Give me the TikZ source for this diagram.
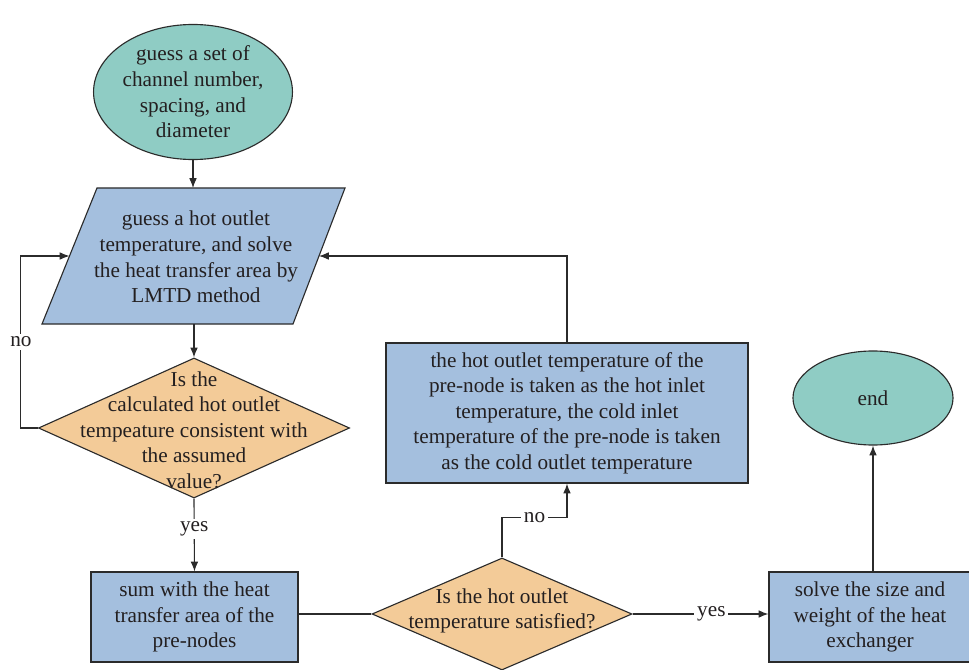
\documentclass[tikz,border=0pt]{standalone}
\usepackage{fontspec}
\setmainfont{Liberation Serif}
\usetikzlibrary{shapes.geometric,arrows.meta}
\definecolor{tealfill}{HTML}{8FCCC4}
\definecolor{bluefill}{HTML}{A4BFDE}
\definecolor{orangefill}{HTML}{F3CB98}
\definecolor{edgegray}{HTML}{2B2B2B}
\definecolor{inkgray}{HTML}{231F20}

\begin{document}
\begin{tikzpicture}[x=0.025cm,y=-0.025cm,line width=0.8pt,
  every node/.style={font=\rmfamily\fontsize{15.1}{18.2}\selectfont,text=inkgray},
  terminal/.style={ellipse,draw=edgegray,fill=tealfill,inner sep=0pt,align=center},
  proc/.style={rectangle,draw=edgegray,fill=bluefill,inner sep=2pt,align=center},
  decision/.style={diamond,draw=edgegray,fill=orangefill,inner sep=0pt},
  tag/.style={fill=white,inner sep=2pt},
  flow/.style={draw=edgegray,-{Latex[length=7pt,width=5.5pt]}}]

\useasboundingbox (0,0) rectangle (969,670);

\node[terminal,minimum width=4.925cm,minimum height=3.375cm] (start) at (193,92)
  {guess a set of\\channel number,\\spacing, and\\diameter};

% slanted input box
\coordinate (gtl) at (97,188);
\coordinate (gtr) at (345,188);
\coordinate (gbr) at (293,324);
\coordinate (gbl) at (42,324);
\coordinate (gleft) at (69.5,256);  % middle of left side
\coordinate (gright) at (319,256);  % middle of right side
\draw[draw=edgegray,fill=bluefill] (gtl) -- (gtr) -- (gbr) -- (gbl) -- cycle;
\node[align=center] (guess) at (196,257)
  {guess a hot outlet\\temperature, and solve\\the heat transfer area by\\LMTD method};

\node[decision,minimum width=7.775cm,minimum height=3.5cm] (check) at (194,428) {};
\node[align=center] (checktxt) at (194,430)
  {Is the\\calculated hot outlet\\tempeature consistent with\\the assumed\\value?};

\node[proc,minimum width=5.175cm,minimum height=2.25cm] (sum) at (194.5,617)
  {sum with the heat\\transfer area of the\\pre-nodes};

\node[decision,minimum width=6.5cm,minimum height=2.8cm] (satisfied) at (502,614) {};
\node[align=center] (satisfiedtxt) at (502,611)
  {Is the hot outlet\\temperature satisfied?};

\node[proc,minimum width=9.05cm,minimum height=3.5cm] (reset) at (567,413)
  {the hot outlet temperature of the\\pre-node is taken as the hot inlet\\temperature, the cold inlet\\temperature of the pre-node is taken\\as the cold outlet temperature};

\node[proc,minimum width=5.05cm,minimum height=2.25cm] (size) at (870,617)
  {solve the size and\\weight of the heat\\exchanger};

\node[terminal,minimum width=4cm,minimum height=2.35cm] (end) at (873,398) {end};

% main line
\draw[flow] (start.south) -- (start.south |- gtl);
\draw[flow] (check.north |- gbl) -- (check.north);
\draw[flow] (check.south) -- node[tag,pos=0.42] (yes1) {yes} (sum.north);
\draw[edgegray] (satisfied.west -| sum.east) -- (satisfied.west);
\draw[flow] (satisfied.east) -- node[tag,pos=0.58] (yes2) {yes} (satisfied.east -| size.west);
\draw[flow] (end.south |- size.north) -- (end.south);

% loops back
\draw[flow] (check.west) -- ++(-17,0) |- node[tag,pos=0.25] (no1) {no} (gleft);
\draw[flow] (satisfied.north) -- ++(0,-40) -| node[tag,pos=0.25] (no2) {no} (reset.south);
\draw[flow] (reset.north) |- (gright);

\end{tikzpicture}
\end{document}
